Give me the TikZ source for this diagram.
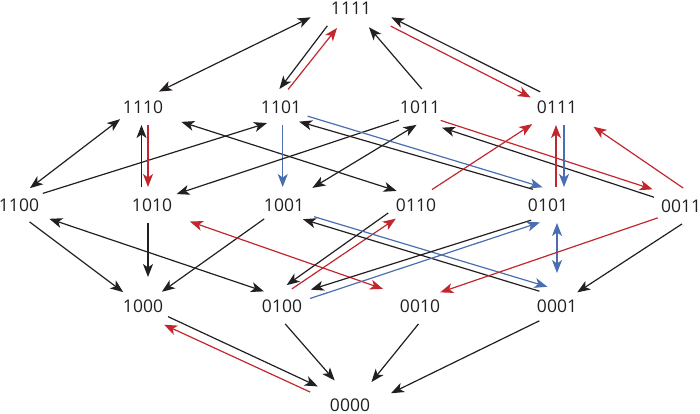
\documentclass[tikz,border=0pt]{standalone}
\usepackage{fontspec}
\setmainfont{Open Sans}
\usetikzlibrary{arrows.meta,shapes.geometric}
\definecolor{cubeInk}{HTML}{231F20}
\definecolor{cubeRed}{HTML}{C1272D}
\definecolor{cubeBlue}{HTML}{4A6EB0}
\tikzset{
  cube diagram/.style={
    line width=1.2pt, x=1pt, y=-1pt,
    >={Stealth[length=13pt,width=10pt,inset=3.5pt]},
    every node/.style={font=\fontsize{17.5}{20}\selectfont, text=cubeInk}
  },
  cube state/.style={ellipse, inner sep=0pt, outer sep=0pt,
    minimum width=62pt, minimum height=36pt},
  cube black/.style={draw=cubeInk},
  cube red/.style={draw=cubeRed},
  cube blue/.style={draw=cubeBlue}
}
\begin{document}
\begin{tikzpicture}[cube diagram]
    \useasboundingbox (0,0) rectangle (700,414);
    \node[cube state,minimum width=90pt,minimum height=42pt] (n1111) at (351,8) {1111};
    \node[cube state] (n1110) at (143,107) {1110};
    \node[cube state] (n1101) at (281,107) {1101};
    \node[cube state] (n1011) at (420,107) {1011};
    \node[cube state] (n0111) at (557,107) {0111};
    \node[cube state] (n1100) at (19,205) {1100};
    \node[cube state] (n1010) at (152,205) {1010};
    \node[cube state] (n1001) at (284,205) {1001};
    \node[cube state] (n0110) at (416,205) {0110};
    \node[cube state] (n0101) at (548,205) {0101};
    \node[cube state] (n0011) at (681,206) {0011};
    \node[cube state] (n1000) at (143,306) {1000};
    \node[cube state] (n0100) at (282,306) {0100};
    \node[cube state] (n0010) at (420,306) {0010};
    \node[cube state] (n0001) at (557,306) {0001};
    \node[cube state,minimum width=92pt,minimum height=52pt] (n0000) at (350,405) {0000};
    \draw[cube black,<->] (n1110.44) -- (n1111.193);
    \draw[cube black,->] (n1111.217) -- (n1101.95);
    \draw[cube red,->] (n1101.68) -- (n1111.235);
    \draw[cube black,->] (n1011.84) -- (n1111.313);
    \draw[cube black,->] (n0111.138) -- (n1111.347);
    \draw[cube red,->,shorten <=8pt] (n1111.336) -- (n0111.160);
    \draw[cube black,<->] (n1110.208) -- (n1100.57);
    \draw[cube black,->] (n1100.26) -- (n1101.229);
    \draw[cube black,->] ([xshift=-1.5pt]n1110.south |- n1010.north) -- ([xshift=-1.5pt]n1110.south);
    \draw[cube red,->] ([xshift=5pt]n1110.south) -- ([xshift=5pt]n1110.south |- n1010.north);
    \draw[cube black,<->,shorten <=14pt] (n1110.337) -- (n0110.144);
    \draw[cube blue,->] ([xshift=1.7pt]n1101.south) -- ([xshift=1.7pt]n1101.south |- n1001.north);
    \draw[cube black,->] (n1011.212) -- (n1010.24);
    \draw[cube black,<->,shorten >=8pt] (n1011.259) -- (n1001.31);
    \draw[cube blue,->] (n1101.341) -- (n0101.107);
    \draw[cube black,->] (n0101.134) -- (n1101.321);
    \draw[cube red,->,shorten >=9pt] (n1011.327) -- (n0011.145);
    \draw[cube black,->,shorten >=12pt] (n0011.162) -- (n1011.302);
    \draw[cube red,->,shorten >=6pt] (n0110.44) -- (n0111.215);
    \draw[cube red,->] ([xshift=-1pt]n0111.south |- n0101.north) -- ([xshift=-1pt]n0111.south);
    \draw[cube blue,->] ([xshift=7pt]n0111.south) -- ([xshift=7pt]n0111.south |- n0101.north);
    \draw[cube red,->,shorten >=15pt] (n0011.83) -- (n0111.335);
    \draw[cube black,->] (n1100.302) -- (n1000.145);
    \draw[cube black,<->,shorten <=7pt] (n1100.334) -- (n0100.141);
    \draw[cube black,->] ([xshift=5pt]n1000.north |- n1010.south) -- ([xshift=5pt,yshift=11pt]n1000.north);
    \draw[cube black,->] (n1001.215) -- (n1000.37);
    \draw[cube red,<->,shorten <=15pt,shorten >=15pt] (n1010.334) -- (n0010.152);
    \draw[cube black,->,shorten >=5pt] (n0110.196) -- (n0100.88);
    \draw[cube red,->] (n0100.60) -- (n0110.214);
    \draw[cube blue,->,shorten <=5pt,shorten >=5pt] (n1001.338) -- (n0001.105);
    \draw[cube black,->] (n0001.140) -- (n1001.323);
    \draw[cube black,->,shorten >=9pt] (n0101.222) -- (n0100.34);
    \draw[cube blue,->] (n0100.15) -- (n0101.245);
    \draw[cube blue,<->] (n0001.north |- n0101.south) -- ([yshift=15pt]n0001.north);
    \draw[cube red,->] (n0011.207) -- (n0010.34);
    \draw[cube black,->] (n0011.273) -- (n0001.34);
    \draw[cube black,->] (n1000.337) -- (n0000.150);
    \draw[cube red,->,shorten >=7pt] (n0000.162) -- (n1000.313);
    \draw[cube black,->] (n0100.280) -- (n0000.122);
    \draw[cube black,->] (n0010.265) -- (n0000.47);
    \draw[cube black,->] (n0001.220) -- (n0000.16);
\end{tikzpicture}
\end{document}
